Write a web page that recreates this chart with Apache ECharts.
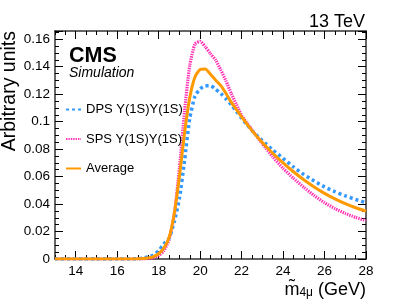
<!DOCTYPE html>
<html>
<head>
<meta charset="utf-8">
<script src="https://cdn.jsdelivr.net/npm/echarts@6/dist/echarts.min.js"></script>
<style>html,body{margin:0;padding:0;background:#fff}#c{width:407px;height:305px}</style>
</head>
<body>
<div id="c"></div>
<script>
var xs = [13, 14, 15, 16, 16.5, 17, 17.25, 17.5, 17.75, 18, 18.25, 18.5, 18.75, 19, 19.25, 19.5, 19.75, 20, 20.25, 20.5, 20.75, 21, 21.25, 21.5, 21.75, 22, 22.5, 23, 23.5, 24, 24.5, 25, 25.5, 26, 26.5, 27, 27.5, 28];
var dps = [0, 0, 0, 0, 0, 0.0002, 0.0006, 0.0015, 0.003, 0.006, 0.011, 0.015, 0.027, 0.044, 0.072, 0.1025, 0.1185, 0.1238, 0.1262, 0.1262, 0.1235, 0.1205, 0.1165, 0.1123, 0.1075, 0.1025, 0.0935, 0.0862, 0.0795, 0.0733, 0.067, 0.0615, 0.0568, 0.0525, 0.049, 0.046, 0.0433, 0.041];
var sps = [0, 0, 0, 0, 0, 0, 0.0001, 0.0003, 0.001, 0.0025, 0.006, 0.014, 0.032, 0.066, 0.108, 0.141, 0.1565, 0.1585, 0.1545, 0.1495, 0.1448, 0.1375, 0.1295, 0.1205, 0.1125, 0.1045, 0.094, 0.084, 0.0745, 0.066, 0.0588, 0.0522, 0.0462, 0.041, 0.0367, 0.0332, 0.0303, 0.028];
var avg = [0, 0, 0, 0, 0, 0.0001, 0.0003, 0.0008, 0.0018, 0.0038, 0.008, 0.0155, 0.033, 0.060, 0.092, 0.1175, 0.1325, 0.138, 0.1383, 0.1345, 0.1302, 0.1262, 0.1205, 0.1142, 0.1088, 0.1035, 0.0935, 0.0848, 0.077, 0.070, 0.0635, 0.0577, 0.0525, 0.0478, 0.0438, 0.0403, 0.0373, 0.0349];
var seriesNames = ['DPS \u03A5(1S)\u03A5(1S)', 'SPS \u03A5(1S)\u03A5(1S)', 'Average'];
var xMajorTicks = [14, 16, 18, 20, 22, 24, 26, 28];

function pairs(ys) { return xs.map(function (x, i) { return [x, ys[i]]; }); }

var FONT = 'Liberation Sans, Arial, Helvetica, sans-serif';
var lineCol = '#333';
var chart = echarts.init(document.getElementById('c'), null, {renderer: 'canvas'});

function xAx(pos, major, labels) {
  var o = {
    type: 'value', position: pos, min: 13, max: 28, gridIndex: 0,
    axisLine: {show: !major, lineStyle: {color: lineCol, width: 1.5}},
    splitLine: {show: false},
    axisTick: {show: true, inside: true, length: major ? 8 : 4, lineStyle: {color: '#000', width: 1}},
    axisLabel: {show: false}
  };
  if (major) { o.axisTick.customValues = xMajorTicks; }
  else { o.interval = 0.5; }
  if (labels) {
    o.axisLabel = {show: true, color: '#000', fontFamily: FONT, fontSize: 13.5, margin: 5,
      formatter: function (v) { return (Math.abs(v % 2) < 1e-9 && v > 13) ? String(v) : ''; }};
    o.name = '{m|m\u0303}{s|4\u03BC}{m| (GeV)}';
    o.nameLocation = 'end';
    o.nameGap = 0;
    o.nameTextStyle = {align: 'right', verticalAlign: 'top', padding: [22, 0, 0, 0],
      rich: {m: {fontFamily: FONT, fontSize: 18, color: '#000', lineHeight: 18},
             s: {fontFamily: FONT, fontSize: 12, color: '#000', lineHeight: 10, verticalAlign: 'bottom'}}};
  }
  return o;
}
function yAx(pos, labels) {
  var o = {
    type: 'value', position: pos, min: 0, max: 0.166, interval: 0.02,
    axisLine: {show: true, lineStyle: {color: lineCol, width: 1.5}},
    splitLine: {show: false},
    axisTick: {show: true, inside: true, length: 8, lineStyle: {color: '#000'}},
    minorTick: {show: true, splitNumber: 4, length: 4, lineStyle: {color: '#000'}},
    axisLabel: {show: false}
  };
  if (labels) {
    o.axisLabel = {show: true, color: '#000', fontFamily: FONT, fontSize: 13.5, margin: 5, showMaxLabel: false};
    o.name = 'Arbitrary units';
    o.nameLocation = 'end';
    o.nameRotate = 90;
    o.nameGap = 0;
    o.nameTextStyle = {fontFamily: FONT, fontSize: 19.5, color: '#000', align: 'right', verticalAlign: 'bottom', padding: [0, 0, 35, 0]};
  }
  return o;
}

var option = {
  animation: false,
  backgroundColor: '#fff',
  grid: {left: 53, right: 41, top: 31, bottom: 46, containLabel: false},
  xAxis: [xAx('bottom', false, true), xAx('bottom', true, false), xAx('top', false, false), xAx('top', true, false)],
  yAxis: [yAx('left', true), yAx('right', false)],
  legend: {
    left: 60, top: 98, orient: 'vertical', itemGap: 16.5, itemWidth: 15, itemHeight: 14,
    itemStyle: {color: 'rgba(0,0,0,0)', borderWidth: 0, opacity: 0},
    textStyle: {fontFamily: FONT, fontSize: 13, color: '#000'},
    data: seriesNames
  },
  graphic: [
    {type: 'text', left: 69, top: 45, style: {text: 'CMS', font: 'bold 21.5px ' + FONT, fill: '#000'}},
    {type: 'text', left: 69, top: 66, style: {text: 'Simulation', font: 'italic 14px ' + FONT, fill: '#000'}},
    {type: 'text', right: 42, top: 13, style: {text: '13 TeV', font: '18px ' + FONT, fill: '#000'}}
  ],
  series: [
    {name: seriesNames[0], type: 'line', symbol: 'none', smooth: 0.2, data: pairs(dps), z: 3,
     lineStyle: {color: '#3399ff', width: 3.5, type: [3, 3]}, itemStyle: {color: '#3399ff'}},
    {name: seriesNames[1], type: 'line', symbol: 'none', smooth: 0.2, data: pairs(sps), z: 2,
     lineStyle: {color: '#ff33b4', width: 3.2, type: [1.4, 1]}, itemStyle: {color: '#ff33b4'}},
    {name: seriesNames[2], type: 'line', symbol: 'none', smooth: 0.2, data: pairs(avg), z: 4,
     lineStyle: {color: '#ff9900', width: 3}, itemStyle: {color: '#ff9900'}}
  ]
};
chart.setOption(option);
</script>
</body>
</html>
